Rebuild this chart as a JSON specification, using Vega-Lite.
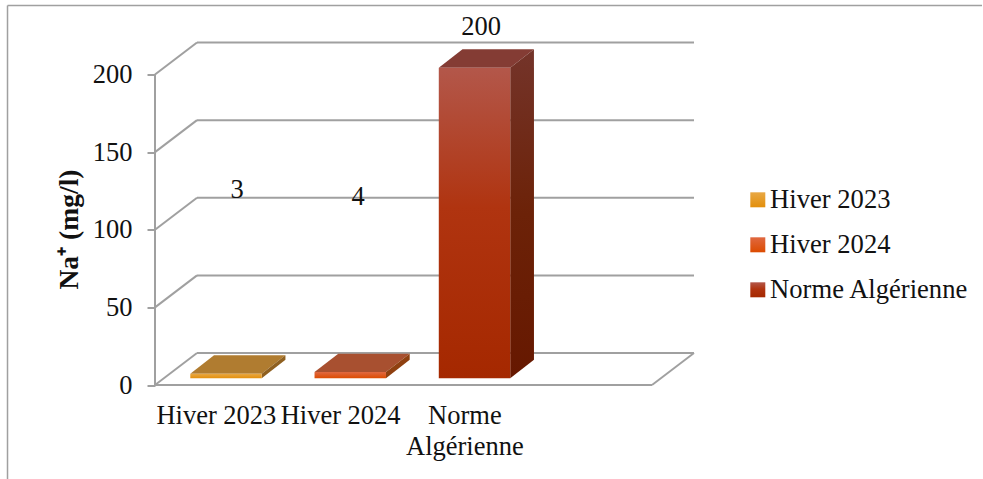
{
  "$schema": "https://vega.github.io/schema/vega-lite/v6.json",
  "width": 539,
  "height": 342.5,
  "autosize": "none",
  "padding": {"left": 155, "top": 42.5, "right": 289, "bottom": 94},
  "background": "white",
  "config": {
    "view": {"stroke": null},
    "font": "Liberation Serif",
    "text": {"font": "Liberation Serif", "fontSize": 26.5, "color": "#111111"},
    "rule": {"stroke": "#A0A0A0", "strokeWidth": 2}
  },
  "resolve": {"axis": {"x": "independent", "y": "independent"}},
  "datasets": {
    "readings": [
      {"series": "Hiver 2023", "value": 3},
      {"series": "Hiver 2024", "value": 4},
      {"series": "Norme Algérienne", "value": 200}
    ],
    "levels": [
      {"level": 0},
      {"level": 50},
      {"level": 100},
      {"level": 150},
      {"level": 200}
    ],
    "single": [{}]
  },
  "layer": [
    {
      "description": "Outer chart frame, top and left edges",
      "data": {"name": "single"},
      "mark": {"type": "rule", "strokeWidth": 1.5, "clip": false},
      "encoding": {
        "x": {"datum": -1.187, "type": "quantitative", "scale": {"domain": [0, 4.338], "nice": false}, "axis": null},
        "x2": {"datum": 6.656},
        "y": {"datum": 244.4, "type": "quantitative", "scale": {"domain": [0, 220.6], "nice": false}, "axis": null}
      }
    },
    {
      "data": {"name": "single"},
      "mark": {"type": "rule", "strokeWidth": 1.5, "clip": false},
      "encoding": {
        "x": {"datum": -1.187, "type": "quantitative", "scale": {"domain": [0, 4.338], "nice": false}, "axis": null},
        "y": {"datum": 244.4, "type": "quantitative", "scale": {"domain": [0, 220.6], "nice": false}, "axis": null},
        "y2": {"datum": -60.5}
      }
    },
    {
      "description": "Back wall gridlines, with the category axis",
      "data": {"name": "levels"},
      "transform": [{"calculate": "datum.level + 20.6", "as": "backLevel"}],
      "mark": {"type": "rule"},
      "encoding": {
        "x": {
          "datum": 0.338,
          "type": "quantitative",
          "scale": {"domain": [0, 4.338], "nice": false},
          "axis": {
            "values": [0.49, 1.49, 2.49],
            "labelExpr": "[['Hiver 2023'],['Hiver 2024'],['Norme','Algérienne']][floor(datum.value)]",
            "title": null,
            "domain": false,
            "ticks": false,
            "grid": false,
            "labelFont": "Liberation Serif",
            "labelFontSize": 26.5,
            "labelColor": "#111111",
            "labelOverlap": false,
            "labelBound": false,
            "labelFlush": false,
            "labelPadding": 17,
            "labelLineHeight": 31
          }
        },
        "x2": {"datum": 4.338},
        "y": {
          "field": "backLevel",
          "type": "quantitative",
          "scale": {"domain": [0, 220.6], "nice": false},
          "axis": null
        }
      }
    },
    {
      "description": "Left wall slanted gridlines and the value axis",
      "data": {"name": "levels"},
      "transform": [{"calculate": "datum.level + 20.6", "as": "backLevel"}],
      "mark": {"type": "rule"},
      "encoding": {
        "x": {"datum": 0, "type": "quantitative", "scale": {"domain": [0, 4.338], "nice": false}, "axis": null},
        "x2": {"datum": 0.338},
        "y": {
          "field": "level",
          "type": "quantitative",
          "scale": {"domain": [0, 220.6], "nice": false},
          "axis": {
            "values": [0, 50, 100, 150, 200],
            "title": "Na⁺ (mg/l)",
            "titleFont": "Liberation Serif",
            "titleFontSize": 27.6,
            "titleFontWeight": "bold",
            "titleColor": "#111111",
            "titleX": -86,
            "titleY": 186.5,
            "titleAngle": -90,
            "titleAlign": "center",
            "titleBaseline": "middle",
            "domain": false,
            "grid": false,
            "tickSize": 8,
            "tickColor": "#A0A0A0",
            "tickWidth": 2,
            "labelFont": "Liberation Serif",
            "labelFontSize": 26.5,
            "labelColor": "#111111",
            "labelPadding": 15,
            "labelOverlap": false,
            "labelBound": false
          }
        },
        "y2": {"field": "backLevel"}
      }
    },
    {
      "description": "Left wall upright edge",
      "data": {"name": "single"},
      "mark": {"type": "rule"},
      "encoding": {
        "x": {"datum": 0, "type": "quantitative", "scale": {"domain": [0, 4.338], "nice": false}, "axis": null},
        "y": {"datum": 0, "type": "quantitative", "scale": {"domain": [0, 220.6], "nice": false}, "axis": null},
        "y2": {"datum": 200}
      }
    },
    {
      "description": "Floor front edge",
      "data": {"name": "single"},
      "mark": {"type": "rule"},
      "encoding": {
        "x": {"datum": 0, "type": "quantitative", "scale": {"domain": [0, 4.338], "nice": false}, "axis": null},
        "x2": {"datum": 4},
        "y": {"datum": 0, "type": "quantitative", "scale": {"domain": [0, 220.6], "nice": false}, "axis": null}
      }
    },
    {
      "description": "Floor right edge",
      "data": {"name": "single"},
      "mark": {"type": "rule"},
      "encoding": {
        "x": {"datum": 4, "type": "quantitative", "scale": {"domain": [0, 4.338], "nice": false}, "axis": null},
        "x2": {"datum": 4.338},
        "y": {"datum": 0, "type": "quantitative", "scale": {"domain": [0, 220.6], "nice": false}, "axis": null},
        "y2": {"datum": 20.6}
      }
    },
    {
      "description": "Top face of each bar",
      "data": {"name": "readings"},
      "transform": [
        {"calculate": "indexof(['Hiver 2023','Hiver 2024','Norme Algérienne'], datum.series)", "as": "slot"},
        {"calculate": "[0, 1, 2, 3]", "as": "corner"},
        {"flatten": ["corner"]},
        {"calculate": "datum.slot + 0.284 + [0, 0.191, 0.575, 0.766][datum.corner]", "as": "faceX"},
        {"calculate": "4.3 + datum.value + (datum.corner === 0 ? 0 : 11.9)", "as": "faceUpper"},
        {"calculate": "4.3 + datum.value + (datum.corner === 3 ? 11.9 : 0)", "as": "faceLower"}
      ],
      "mark": {
        "type": "area",
        "orient": "vertical",
        "interpolate": "linear",
        "fill": {"expr": "['#B07C30', '#A85030', '#843C34'][datum.slot]"}
      },
      "encoding": {
        "x": {"field": "faceX", "type": "quantitative", "scale": {"domain": [0, 4.338], "nice": false}, "axis": null},
        "y": {"field": "faceUpper", "type": "quantitative", "scale": {"domain": [0, 220.6], "nice": false}, "axis": null},
        "y2": {"field": "faceLower"},
        "detail": {"field": "series"}
      }
    },
    {
      "description": "Side face of each bar",
      "data": {"name": "readings"},
      "transform": [
        {"calculate": "indexof(['Hiver 2023','Hiver 2024','Norme Algérienne'], datum.series)", "as": "slot"},
        {"calculate": "[0, 1]", "as": "corner"},
        {"flatten": ["corner"]},
        {"calculate": "datum.slot + 0.859 + datum.corner * 0.191", "as": "faceX"},
        {"calculate": "4.3 + datum.value + datum.corner * 11.9", "as": "faceUpper"},
        {"calculate": "4.3 + datum.corner * 11.9", "as": "faceLower"}
      ],
      "mark": {
        "type": "area",
        "orient": "vertical",
        "interpolate": "linear",
        "fill": {"expr": "datum.slot === 0 ? '#8F6020' : datum.slot === 1 ? '#8F4010' : {gradient: 'linear', x1: 0, y1: 0, x2: 0, y2: 1, stops: [{offset: 0, color: '#74342A'}, {offset: 0.5, color: '#6C2208'}, {offset: 1, color: '#661800'}]}"}
      },
      "encoding": {
        "x": {"field": "faceX", "type": "quantitative", "scale": {"domain": [0, 4.338], "nice": false}, "axis": null},
        "y": {"field": "faceUpper", "type": "quantitative", "scale": {"domain": [0, 220.6], "nice": false}, "axis": null},
        "y2": {"field": "faceLower"},
        "detail": {"field": "series"}
      }
    },
    {
      "description": "Front face of each bar, with the legend",
      "data": {"name": "readings"},
      "transform": [
        {"calculate": "indexof(['Hiver 2023','Hiver 2024','Norme Algérienne'], datum.series)", "as": "slot"},
        {"calculate": "datum.slot + 0.284", "as": "barLeft"},
        {"calculate": "datum.slot + 0.859", "as": "barRight"},
        {"calculate": "4.3 + datum.value", "as": "barTop"},
        {"calculate": "4.3", "as": "barBase"}
      ],
      "mark": {"type": "rect"},
      "encoding": {
        "x": {"field": "barLeft", "type": "quantitative", "scale": {"domain": [0, 4.338], "nice": false}, "axis": null},
        "x2": {"field": "barRight"},
        "y": {"field": "barTop", "type": "quantitative", "scale": {"domain": [0, 220.6], "nice": false}, "axis": null},
        "y2": {"field": "barBase"},
        "color": {
          "field": "series",
          "type": "nominal",
          "scale": {
            "domain": ["Hiver 2023", "Hiver 2024", "Norme Algérienne"],
            "range": [
              {"expr": "{gradient: 'linear', x1: 0, y1: 0, x2: 0, y2: 1, stops: [{offset: 0, color: '#E8A845'}, {offset: 1, color: '#E38F0B'}]}"},
              {"expr": "{gradient: 'linear', x1: 0, y1: 0, x2: 0, y2: 1, stops: [{offset: 0, color: '#E06840'}, {offset: 1, color: '#DC4B00'}]}"},
              {"expr": "{gradient: 'linear', x1: 0, y1: 0, x2: 0, y2: 1, stops: [{offset: 0, color: '#B3574A'}, {offset: 0.45, color: '#B03410'}, {offset: 1, color: '#A52800'}]}"}
            ]
          },
          "legend": {
            "orient": "none",
            "legendX": 589.5,
            "legendY": 144,
            "padding": 0,
            "title": null,
            "symbolType": "square",
            "symbolSize": 225,
            "symbolStrokeWidth": 0,
            "labelFont": "Liberation Serif",
            "labelFontSize": 26.6,
            "labelColor": "#111111",
            "labelOffset": -1,
            "labelLimit": 300,
            "rowPadding": 18
          }
        }
      }
    },
    {
      "description": "Value labels",
      "data": {"name": "readings"},
      "transform": [
        {"calculate": "indexof(['Hiver 2023','Hiver 2024','Norme Algérienne'], datum.series)", "as": "slot"},
        {"calculate": "[0.66, 1.634, 2.624][datum.slot]", "as": "labelX"},
        {"calculate": "[125.6, 121.1, 230.6][datum.slot]", "as": "labelY"}
      ],
      "mark": {"type": "text", "baseline": "middle", "align": "center"},
      "encoding": {
        "x": {"field": "labelX", "type": "quantitative", "scale": {"domain": [0, 4.338], "nice": false}, "axis": null},
        "y": {"field": "labelY", "type": "quantitative", "scale": {"domain": [0, 220.6], "nice": false}, "axis": null},
        "text": {"field": "value", "type": "quantitative"}
      }
    }
  ]
}
